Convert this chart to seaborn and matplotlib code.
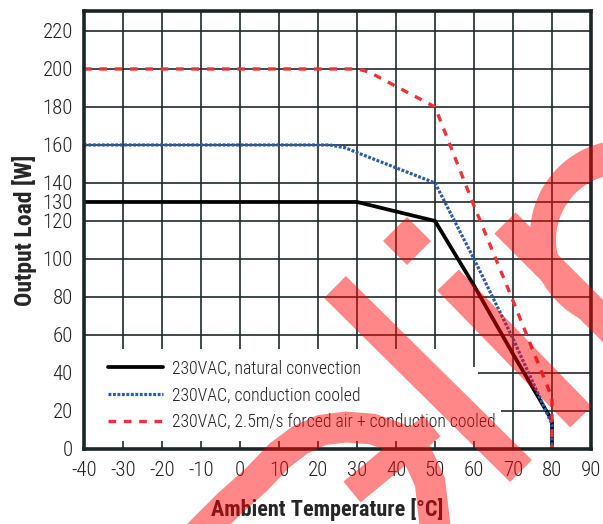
import matplotlib
matplotlib.use("Agg")
import matplotlib.pyplot as plt
import seaborn as sns
import numpy as np
from matplotlib.path import Path
from matplotlib.patches import PathPatch, Rectangle
from matplotlib.transforms import Affine2D

# derating curves
temp_natural = [-40, 30, 50, 60, 70, 80, 80]
load_natural = [130, 130, 120, 86, 50, 15, 0]

temp_cond = [-40, 23, 27, 30, 50, 60, 70, 80, 80]
load_cond = [160, 160, 158.5, 156, 140, 100, 58, 13, 0]

temp_forced = [-40, 30, 33, 50, 60, 70, 80, 80]
load_forced = [200, 200, 198.5, 180, 128, 78, 27, 0]

labels = ["230VAC, natural convection",
          "230VAC, conduction cooled",
          "230VAC, 2.5m/s forced air + conduction cooled"]

x_ticks = list(range(-40, 91, 10))
y_ticks = [0, 20, 40, 60, 80, 100, 120, 130, 140, 160, 180, 200, 220]

sns.set_style("white")
plt.rcParams['font.family'] = ['Roboto Condensed', 'Liberation Sans', 'DejaVu Sans']
plt.rcParams['text.color'] = '#222222'
plt.rcParams['axes.unicode_minus'] = False

grid_c = '#1f2b2b'
fig = plt.figure(figsize=(6.03, 5.24), dpi=100)
ax = fig.add_axes([84 / 603, 1 - 449 / 524, 507 / 603, 438 / 524])

# grid drawn by hand so the legend box can hide it but not the ticks
for xv in x_ticks:
    ax.axvline(xv, color=grid_c, lw=1.2, zorder=0.5)
for yv in y_ticks:
    ax.axhline(yv, color=grid_c, lw=1.2, zorder=0.5)

# white area behind the legend
for (x0, y0, w, h) in [(-40, 4, 98.5, 48.5), (58.5, 4, 2.5, 39), (58.5, 4, 8.5, 26)]:
    ax.add_patch(Rectangle((x0, y0), w, h, facecolor='white', edgecolor='none', zorder=1))

sns.lineplot(x=temp_natural, y=load_natural, ax=ax, estimator=None, sort=False,
             color='black', lw=2.7, label=labels[0], zorder=3)
sns.lineplot(x=temp_cond, y=load_cond, ax=ax, estimator=None, sort=False,
             color='#2b5ca8', lw=2.3, linestyle=(0, (0.9, 0.5)), label=labels[1], zorder=3)
sns.lineplot(x=temp_forced, y=load_forced, ax=ax, estimator=None, sort=False,
             color='#ee3338', lw=2.4, linestyle=(0, (2.3, 2.3)), label=labels[2], zorder=3)

ax.set_xlim(-40, 90)
ax.set_ylim(0, 230.5)
ax.set_xticks(x_ticks)
ax.set_yticks(y_ticks)
ax.tick_params(axis='both', direction='in', length=9, width=1.2, color=grid_c,
               labelsize=15, labelcolor='#222222')
ax.tick_params(axis='x', pad=9)
ax.tick_params(axis='y', pad=8)
for lab in ax.get_xticklabels() + ax.get_yticklabels():
    lab.set_fontweight('light')
for s in ax.spines.values():
    s.set_linewidth(2.6)
    s.set_color('#1b2626')
    s.set_zorder(4)

ax.set_xlabel("Ambient Temperature [°C]", fontsize=16, fontweight='bold')
ax.set_ylabel("Output Load [W]", fontsize=17, fontweight='bold', labelpad=4)
ax.xaxis.set_label_coords(0.479, -0.112)

leg = ax.legend(loc='lower left', bbox_to_anchor=(0.015, 0.004), frameon=False,
                handlelength=3.1, handletextpad=0.5, labelspacing=0.5,
                prop={'size': 12.8, 'weight': 'light'})

# red watermark drawn in figure pixel coordinates
verts, codes = [], []


def add_poly(pts, ccw=True):
    pts = np.asarray(pts, float)
    area = 0.5 * np.sum(pts[:, 0] * np.roll(pts[:, 1], -1) - np.roll(pts[:, 0], -1) * pts[:, 1])
    if (area > 0) != ccw:
        pts = pts[::-1]
    verts.extend(pts.tolist() + [pts[0].tolist()])
    codes.extend([Path.MOVETO] + [Path.LINETO] * (len(pts) - 1) + [Path.CLOSEPOLY])


def stroke(pts, w):
    pts = np.asarray(pts, float)
    seg = np.diff(pts, axis=0)
    seg /= np.linalg.norm(seg, axis=1)[:, None]
    tang = np.vstack([seg[:1], seg[:-1] + seg[1:], seg[-1:]])
    tang /= np.linalg.norm(tang, axis=1)[:, None]
    nrm = np.c_[-tang[:, 1], tang[:, 0]] * w / 2
    add_poly(np.vstack([pts + nrm, (pts - nrm)[::-1]]))


def ring(c, r_out, r_in, c_in):
    t = np.linspace(0, 2 * np.pi, 160, endpoint=False)
    add_poly(np.c_[c[0] + r_out * np.cos(t), c[1] + r_out * np.sin(t)], True)
    add_poly(np.c_[c_in[0] + r_in * np.cos(t), c_in[1] + r_in * np.sin(t)], False)


stroke([(335, 287), (521, 471)], 31)
stroke([(448, 280), (581, 417)], 30)
stroke([(505, 223), (650, 368)], 30)
stroke([(352, 492), (432, 426)], 27)
stroke([(198, 535), (228, 505), (256, 480), (280, 455), (300, 440), (322, 430), (346, 427),
        (372, 429), (398, 438), (418, 456), (430, 482), (436, 535)], 31)
add_poly([(383, 241), (407, 217), (431, 241), (407, 265)])
ring((625, 235), 95, 66, (622, 240))

px = Affine2D().scale(1 / 603, -1 / 524).translate(0, 1) + fig.transFigure
fig.add_artist(PathPatch(Path(verts, codes), facecolor='red', edgecolor='none',
                         alpha=0.47, transform=px, zorder=10))

fig.savefig('out.png', dpi=100)
